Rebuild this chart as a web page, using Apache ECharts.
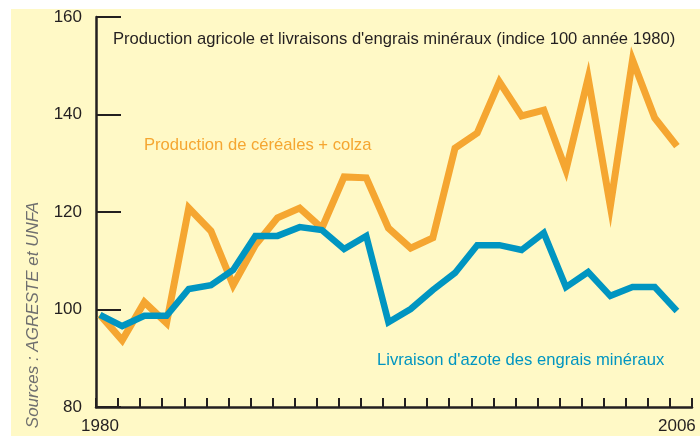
<!DOCTYPE html>
<html>
<head>
<meta charset="utf-8">
<script src="https://cdn.jsdelivr.net/npm/echarts@6/dist/echarts.min.js"></script>
<style>
  html, body { margin: 0; padding: 0; background: #fff; }
  #chart { width: 700px; height: 436px; }
</style>
</head>
<body>
<div id="chart"></div>
<script>
// years 1980 .. 2006
var years = [1980, 1981, 1982, 1983, 1984, 1985, 1986, 1987, 1988, 1989,
  1990, 1991, 1992, 1993, 1994, 1995, 1996, 1997, 1998, 1999,
  2000, 2001, 2002, 2003, 2004, 2005, 2006]

// Production de céréales + colza
var cereales = [98.9, 93.7, 101.5, 97.2, 120.8, 116.1, 105, 113.2, 118.8, 120.8,
  116.7, 127.2, 127, 116.7, 112.6, 114.7, 133.1, 136.2, 146.7, 139.7,
  140.9, 128.6, 147.5, 121.2, 151.2, 139.3, 133.5]

// Livraison d'azote des engrais minéraux
var azote = [98.9, 96.6, 98.7, 98.7, 104.2, 105, 108.1, 115.1, 115.1, 116.9,
  116.3, 112.4, 115.1, 97.4, 100.1, 104, 107.5, 113.2, 113.2, 112.2,
  115.7, 104.6, 107.7, 102.8, 104.6, 104.6, 99.7]

var xLabels = [1980, 2006]

function pairs(vals) {
  return years.map(function (y, i) { return [y, vals[i]] })
}

var chart = echarts.init(document.getElementById('chart'))

var font = '"Liberation Sans", Arial, sans-serif'
var ink = '#231F20'
var orange = '#F5A631'
var blue = '#0095C1'

var option = {
  backgroundColor: '#ffffff',
  animation: false,
  textStyle: { fontFamily: font },
  grid: { left: 96, right: 8, top: 17, bottom: 29 },
  xAxis: [{
    // axis line and yearly ticks
    type: 'value',
    min: 1980,
    max: 2007,
    interval: 1,
    axisLine: { lineStyle: { color: ink, width: 2.5 } },
    axisTick: { inside: true, length: 9, lineStyle: { color: ink, width: 2 } },
    axisLabel: { show: false },
    splitLine: { show: false }
  }, {
    // data axis
    type: 'value',
    position: 'bottom',
    min: 1979.82,
    max: 2006.68,
    axisLine: { show: false },
    axisTick: { show: false },
    splitLine: { show: false },
    axisLabel: {
      customValues: xLabels,
      formatter: function (v) { return String(v) },
      color: ink,
      fontSize: 17,
      margin: 11,
      fontFamily: font
    }
  }],
  yAxis: {
    type: 'value',
    min: 80,
    max: 160,
    interval: 20,
    axisLine: { show: true, lineStyle: { color: ink, width: 2.5 } },
    axisTick: { show: true, inside: true, length: 25, lineStyle: { color: ink, width: 2 } },
    axisLabel: { color: ink, fontSize: 17, margin: 14, fontFamily: font },
    splitLine: { show: false }
  },
  graphic: [{
    type: 'rect',
    z: -10,
    silent: true,
    shape: { x: 11, y: 9, width: 689, height: 427 },
    style: { fill: '#FFF9C6' }
  }, {
    type: 'text',
    left: 113,
    top: 31,
    style: {
      text: "Production agricole et livraisons d'engrais minéraux (indice 100 année 1980)",
      fill: ink,
      font: '16.6px ' + font
    }
  }, {
    type: 'text',
    left: 144,
    top: 137,
    style: {
      text: 'Production de céréales + colza',
      fill: orange,
      font: '16.6px ' + font
    }
  }, {
    type: 'text',
    left: 377,
    top: 352,
    style: {
      text: "Livraison d'azote des engrais minéraux",
      fill: blue,
      font: '16.6px ' + font
    }
  }, {
    type: 'text',
    x: 33,
    y: 315,
    rotation: Math.PI / 2,
    style: {
      text: 'Sources : AGRESTE et UNFA',
      fill: '#6f6f6f',
      font: 'italic 17px ' + font,
      align: 'center',
      verticalAlign: 'middle'
    }
  }],
  series: [{
    name: 'Production de céréales + colza',
    type: 'line',
    xAxisIndex: 1,
    data: pairs(cereales),
    symbol: 'none',
    lineStyle: { color: orange, width: 7, join: 'miter', cap: 'butt' }
  }, {
    name: "Livraison d'azote des engrais minéraux",
    type: 'line',
    xAxisIndex: 1,
    data: pairs(azote),
    symbol: 'none',
    lineStyle: { color: blue, width: 6.5, join: 'miter', cap: 'butt' }
  }]
}

chart.setOption(option)
</script>
</body>
</html>
